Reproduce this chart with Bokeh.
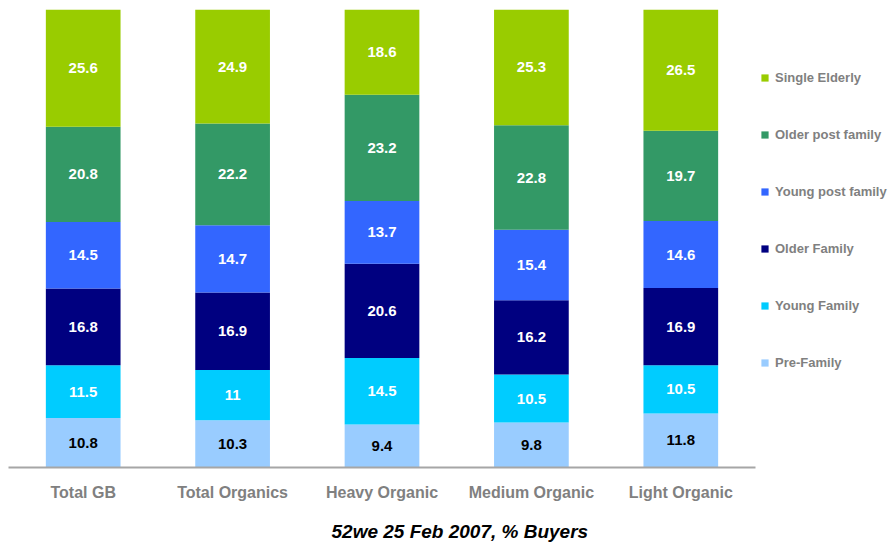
import numpy as np
from bokeh.plotting import figure
from bokeh.models import FactorRange, Legend, LegendItem, Title, ColumnDataSource
from bokeh.core.properties import value
from bokeh.embed import file_html
from bokeh.resources import INLINE

categories = ["Total GB", "Total Organics", "Heavy Organic", "Medium Organic", "Light Organic"]
series_names = ["Pre-Family", "Young Family", "Older Family", "Young post family", "Older post family", "Single Elderly"]
pre_family = [10.8, 10.3, 9.4, 9.8, 11.8]
young_family = [11.5, 11, 14.5, 10.5, 10.5]
older_family = [16.8, 16.9, 20.6, 16.2, 16.9]
young_post_family = [14.5, 14.7, 13.7, 15.4, 14.6]
older_post_family = [20.8, 22.2, 23.2, 22.8, 19.7]
single_elderly = [25.6, 24.9, 18.6, 25.3, 26.5]
colors = ["#99CCFF", "#00CCFF", "#000080", "#3366FF", "#339966", "#99CC00"]
label_colors = ["#000000", "#FFFFFF", "#FFFFFF", "#FFFFFF", "#FFFFFF", "#FFFFFF"]
title_text = "52we 25 Feb 2007, % Buyers"

FONT = "Liberation Sans"
series_values = [pre_family, young_family, older_family, young_post_family, older_post_family, single_elderly]
keys = ["s%d" % i for i in range(len(series_names))]
data = {"cat": categories}
for k, v in zip(keys, series_values):
    data[k] = v
source = ColumnDataSource(data)

p = figure(x_range=FactorRange(*categories, range_padding=0), y_range=(0, 100),
           frame_width=747, frame_height=458, output_backend="svg", toolbar_location=None,
           min_border_left=8, min_border_top=9, min_border_right=0, min_border_bottom=80)
p.outline_line_color = None
p.xgrid.visible = False
p.ygrid.visible = False
p.yaxis.visible = False
p.background_fill_color = "white"
p.border_fill_color = "white"

renderers = p.vbar_stack(keys, x="cat", width=0.5, color=colors, source=source, line_color=None)

# segment labels
arr = np.array(series_values)
cum = np.cumsum(arr, axis=0)
mids = cum - arr / 2.0
for i in range(len(series_names)):
    txt = [("%g" % v) for v in series_values[i]]
    p.text(x=categories, y=list(mids[i]), text=txt, text_align="center", text_baseline="middle",
           text_font=value(FONT), text_font_size="15px", text_font_style="bold",
           text_color=label_colors[i])

p.xaxis.axis_line_color = "#A6A6A6"
p.xaxis.axis_line_width = 2
p.xaxis.major_tick_line_color = None
p.xaxis.minor_tick_line_color = None
p.xaxis.major_label_text_font = FONT
p.xaxis.major_label_text_font_size = "16px"
p.xaxis.major_label_text_font_style = "bold"
p.xaxis.major_label_text_color = "#808080"
p.xaxis.major_label_standoff = 10

items = [LegendItem(label=series_names[i], renderers=[renderers[i]]) for i in reversed(range(len(series_names)))]
legend = Legend(items=items, location=(5, 97), margin=0, padding=0,
                glyph_width=9, glyph_height=9, label_height=13, spacing=42,
                label_standoff=6, border_line_color=None, background_fill_alpha=0,
                label_text_font=FONT, label_text_font_size="13px",
                label_text_font_style="bold", label_text_color="#808080")
p.add_layout(legend, "right")

t = Title(text=title_text, align="left", offset=323, text_font=FONT, text_font_size="19px",
          text_font_style="bold italic", text_color="#000000", standoff=31)
p.add_layout(t, "below")

open("out.html", "w").write(file_html(p, INLINE))
